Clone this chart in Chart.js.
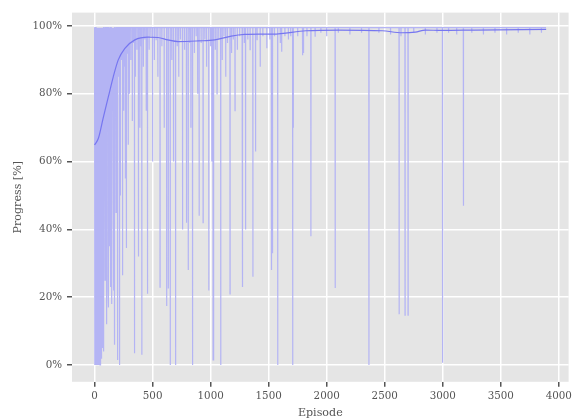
<!DOCTYPE html>
<html>
<head>
<meta charset="utf-8">
<script src="https://cdn.jsdelivr.net/npm/chart.js@4/dist/chart.umd.min.js"></script>
<style>
  html, body { margin: 0; padding: 0; background: #fff; }
  #wrap { width: 575px; height: 418px; }
</style>
</head>
<body>
<div id="wrap"><canvas id="myChart" width="575" height="418"></canvas></div>
<script>
// episodes where progress dropped below the ~99.5% ceiling, and how far it dropped
const dipEpisodes = [
  2, 5, 8, 11, 14, 17, 20, 23, 26, 29, 32, 35, 38, 41, 44, 47, 50, 53, 56, 60,
  64, 68, 72, 78, 84, 90, 96, 100, 106, 112, 116, 120, 126, 132, 138, 145, 150, 158, 163, 167,
  172, 178, 185, 190, 196, 200, 207, 215, 222, 230, 241, 250, 258, 265, 272, 280, 290, 300, 312, 325,
  335, 344, 352, 365, 378, 390, 398, 407, 420, 432, 445, 456, 470, 485, 500, 515, 530, 545, 564, 580,
  600, 621, 635, 652, 665, 680, 698, 712, 725, 740, 758, 775, 792, 807, 820, 830, 844, 860, 875, 888,
  901, 918, 935, 950, 965, 984, 1000, 1010, 1021, 1027, 1040, 1055, 1070, 1087, 1100, 1115, 1130, 1145, 1167, 1180,
  1195, 1210, 1230, 1250, 1272, 1276, 1290, 1301, 1320, 1340, 1364, 1387, 1400, 1427, 1450, 1484, 1510, 1524, 1533, 1550,
  1578, 1600, 1612, 1640, 1670, 1690, 1707, 1712, 1750, 1792, 1800, 1830, 1864, 1900, 1950, 2000, 2073, 2100, 2200, 2300,
  2364, 2450, 2550, 2624, 2640, 2675, 2701, 2750, 2850, 2950, 2998, 3050, 3120, 3178, 3250, 3350, 3450, 3550, 3650, 3750,
  3850
];
const dipValues = [
  0, 35, 0, 60, 0, 0, 45, 0, 0, 10, 0, 0, 20, 0, 8, 0, 0, 30, 2, 55,
  15, 40, 5, 4, 50, 25, 60, 12, 45, 70, 22, 17, 35, 60, 23, 55, 18, 75, 30, 22,
  6, 80, 45, 62, 70, 1.5, 85, 0, 50, 90, 26.5, 75, 88, 55, 34.5, 92, 65, 80, 90, 72,
  95, 3.5, 85, 93, 32, 70, 94, 3, 88, 96, 75, 21, 93, 97, 60, 90, 96, 85, 23, 94,
  70, 17.4, 22.6, 0, 90, 60, 0, 94, 85, 96, 40, 93, 42, 28, 95, 70, 0, 92, 97, 80,
  44, 95, 42, 96, 88, 22, 94, 60, 1.5, 25, 93, 80, 96, 0, 90, 97, 85, 95, 21, 92,
  96, 75, 93, 97, 23, 34, 95, 40, 96, 93, 26, 63, 96, 88, 97, 93.4, 96, 28, 33, 97,
  0, 95, 92.4, 97, 96, 97, 0, 70, 97, 91.4, 92, 97, 38, 97, 98, 97, 22.7, 98, 97.5, 98,
  0, 98, 97.5, 15, 97, 14.7, 14.7, 98, 97.5, 98, 0.7, 98, 97.5, 47, 98, 97.5, 98, 97.5, 98, 97.5,
  98
];
const ceilingValue = 99.5;
const lastEpisode = 3890;

// smoothed progress curve
const smoothEpisodes = [0, 33, 75, 118, 161, 204, 261, 347, 461, 547, 632, 721, 893, 1035, 1178, 1292, 1421, 1535, 1821, 2106, 2478, 2649, 2764, 2850, 2990, 3275, 3891];
const smoothValues = [64.9, 66.9, 73, 79, 85, 90, 93.4, 95.9, 96.7, 96.6, 95.9, 95.4, 95.6, 95.9, 97, 97.5, 97.6, 97.6, 98.6, 98.8, 98.6, 98, 98.2, 98.8, 98.7, 98.8, 99];

const xTicks = [0, 500, 1000, 1500, 2000, 2500, 3000, 3500, 4000];
const yTicks = [0, 20, 40, 60, 80, 100];

// build the raw line: each dip sits between two ceiling points
const rawPoints = [{ x: 0, y: ceilingValue }];
for (let i = 0; i < dipEpisodes.length; i++) {
  const e = dipEpisodes[i];
  rawPoints.push({ x: e - 1, y: ceilingValue });
  rawPoints.push({ x: e, y: dipValues[i] });
  rawPoints.push({ x: e + 1, y: ceilingValue });
}
rawPoints.push({ x: lastEpisode, y: ceilingValue });

const smoothPoints = smoothEpisodes.map((e, i) => ({ x: e, y: smoothValues[i] }));

// grey panel behind the plot, ggplot style
const panelBg = {
  id: "panelBg",
  beforeDraw(chart) {
    const { ctx, chartArea } = chart;
    ctx.save();
    ctx.fillStyle = "#E5E5E5";
    ctx.fillRect(chartArea.left, chartArea.top, chartArea.right - chartArea.left, chartArea.bottom - chartArea.top);
    ctx.restore();
  },
};

const tickFont = { family: "DejaVu Serif", size: 10.3 };
const titleFont = { family: "DejaVu Serif", size: 11.1 };

new Chart(document.getElementById("myChart"), {
  type: "line",
  data: {
    datasets: [
      {
        data: smoothPoints,
        borderColor: "rgb(118, 118, 240)",
        borderWidth: 1.2,
        pointRadius: 0,
        cubicInterpolationMode: "monotone",
        order: 0,
      },
      {
        data: rawPoints,
        borderColor: "rgb(180, 180, 244)",
        borderWidth: 1.2,
        pointRadius: 0,
        tension: 0,
        order: 1,
      },
    ],
  },
  options: {
    responsive: false,
    animation: false,
    layout: { padding: { left: 11, top: 12.6, right: 4, bottom: 0 } },
    plugins: { legend: { display: false }, tooltip: { enabled: false } },
    scales: {
      x: {
        type: "linear",
        min: -194.5,
        max: 4084.5,
        afterBuildTicks: (s) => { s.ticks = xTicks.map((v) => ({ value: v })); },
        afterFit: (s) => { s.height = 36.2; },
        border: { display: false },
        grid: { color: "#FFFFFF", lineWidth: 1.5, tickColor: "#555555", tickLength: 5 },
        ticks: { color: "#555555", font: tickFont, padding: 3, maxRotation: 0, callback: (v) => String(v) },
        title: { display: true, text: "Episode", color: "#555555", font: titleFont, padding: { top: 0, bottom: -2 } },
      },
      y: {
        type: "linear",
        min: -4.95,
        max: 103.95,
        afterBuildTicks: (s) => { s.ticks = yTicks.map((v) => ({ value: v })); },
        afterFit: (s) => { s.width = 61; },
        border: { display: false },
        grid: { color: "#FFFFFF", lineWidth: 1.5, tickColor: "#555555", tickLength: 5 },
        ticks: { color: "#555555", font: tickFont, padding: 5, callback: (v) => v + "%" },
        title: { display: true, text: "Progress [%]", color: "#555555", font: titleFont, padding: 0 },
      },
    },
  },
  plugins: [panelBg],
});
</script>
</body>
</html>
